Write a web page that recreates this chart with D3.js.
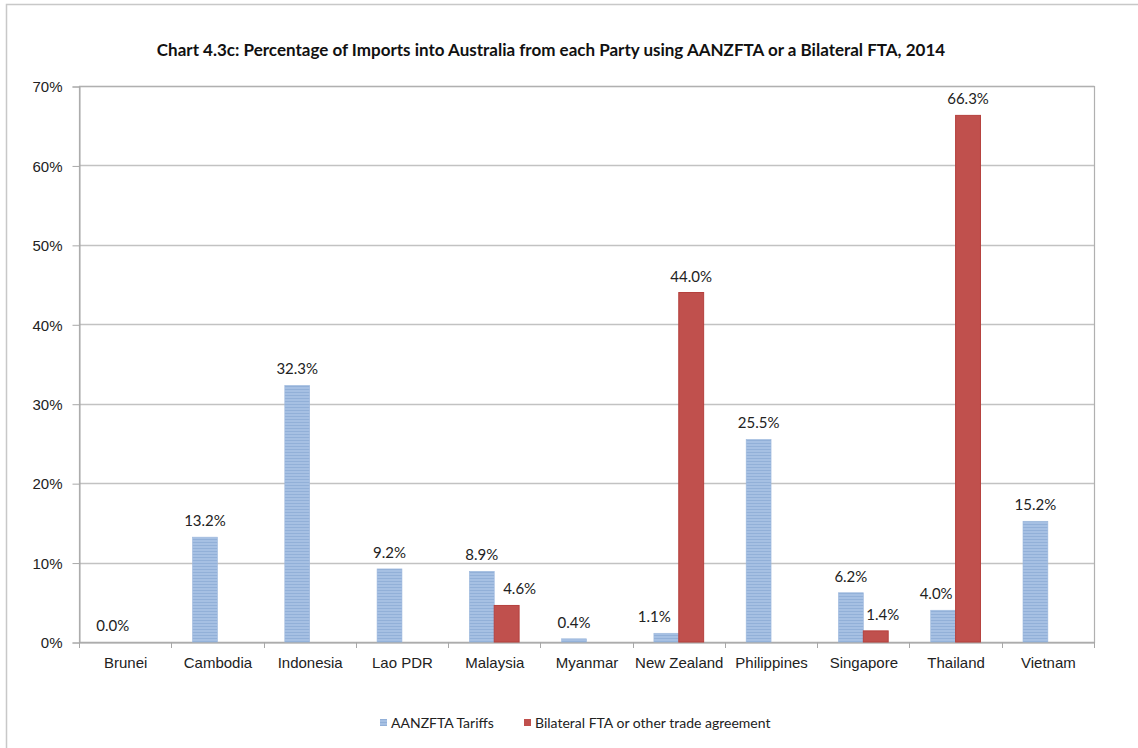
<!DOCTYPE html>
<html>
<head>
<meta charset="utf-8">
<script src="https://cdn.jsdelivr.net/npm/d3@7"></script>
<style>
  html, body { margin: 0; padding: 0; background: #fff; }
  svg { display: block; font-family: Lato, "Open Sans", "Liberation Sans", sans-serif; }
</style>
</head>
<body>
<svg id="chart" width="1138" height="748"></svg>
<script>
// Chart data
const categories = ["Brunei", "Cambodia", "Indonesia", "Lao PDR", "Malaysia", "Myanmar",
  "New Zealand", "Philippines", "Singapore", "Thailand", "Vietnam"];
const seriesNames = ["AANZFTA Tariffs", "Bilateral FTA or other trade agreement"];
const aanzftaValues = [0.0, 13.2, 32.3, 9.2, 8.9, 0.4, 1.1, 25.5, 6.2, 4.0, 15.2];
const bilateralValues = [null, null, null, null, 4.6, null, 44.0, null, 1.4, 66.3, null];
const yTicks = [0, 10, 20, 30, 40, 50, 60, 70];
const titleText = "Chart 4.3c: Percentage of Imports into Australia from each Party using AANZFTA or a Bilateral FTA, 2014";

const svg = d3.select("#chart");
const plot = { left: 79, top: 86, right: 1094, bottom: 642 };

// Hand-placed value labels that sit beside a neighbouring bar (category|series -> dx)
const labelNudge = { "Malaysia|1": 13, "New Zealand|0": -12, "Singapore|1": 7, "Thailand|0": -7 };

// Outer chart frame
svg.append("rect")
  .attr("x", 6.5).attr("y", 4.5)
  .attr("width", 1300).attr("height", 900)
  .attr("fill", "none").attr("stroke", "#c8c8c8").attr("stroke-width", 1.5);

// Striped fill for the AANZFTA bars
const defs = svg.append("defs");
const pat = defs.append("pattern")
  .attr("id", "stripe").attr("patternUnits", "userSpaceOnUse")
  .attr("width", 4).attr("height", 3);
pat.append("rect").attr("width", 4).attr("height", 3).attr("fill", "#a6c0e3");
pat.append("rect").attr("y", 2).attr("width", 4).attr("height", 1).attr("fill", "#92b0d8");

const x0 = d3.scaleBand().domain(categories).range([plot.left, plot.right]).paddingInner(0).paddingOuter(0);
const x1 = d3.scaleBand().domain([0, 1]).range([0, x0.bandwidth()]).paddingInner(0).paddingOuter(0.855);
const y = d3.scaleLinear().domain([0, 70]).range([plot.bottom, plot.top]);

// Gridlines
svg.append("g").selectAll("line").data(yTicks).join("line")
  .attr("x1", plot.left).attr("x2", plot.right)
  .attr("y1", d => Math.round(y(d)) + 0.5).attr("y2", d => Math.round(y(d)) + 0.5)
  .attr("stroke", "#c2c2c2").attr("stroke-width", 1.3);

// Plot area border
svg.append("rect")
  .attr("x", plot.left + 0.5).attr("y", plot.top + 0.5)
  .attr("width", plot.right - plot.left).attr("height", plot.bottom - plot.top)
  .attr("fill", "none").attr("stroke", "#b0b0b0").attr("stroke-width", 1.2);

// Y axis
const yAxis = svg.append("g")
  .attr("transform", `translate(${plot.left + 0.5},0.5)`)
  .call(d3.axisLeft(y).tickValues(yTicks).tickFormat(d => d + "%").tickSize(7).tickPadding(10));
yAxis.select(".domain").attr("stroke", "#a8a8a8");
yAxis.selectAll(".tick line").attr("stroke", "#a8a8a8");
yAxis.selectAll("text").attr("fill", "#222").style("font-size", "15px")
  .attr("dy", "0.35em");

// X axis
const xAxis = svg.append("g")
  .attr("transform", `translate(0.5,${plot.bottom + 0.5})`)
  .call(d3.axisBottom(x0).tickSize(0).tickPadding(15));
xAxis.select(".domain").attr("stroke", "#a8a8a8");
xAxis.selectAll("text").attr("fill", "#222").style("font-size", "15px");
// Category separators below the axis
svg.append("g").selectAll("line")
  .data(categories.map((c, i) => plot.left + i * x0.bandwidth()).concat([plot.right]))
  .join("line")
  .attr("x1", d => Math.round(d) + 0.5).attr("x2", d => Math.round(d) + 0.5)
  .attr("y1", plot.bottom).attr("y2", plot.bottom + 6)
  .attr("stroke", "#a8a8a8");

// Bars
const rows = categories.map((c, i) => ({ c, v: [aanzftaValues[i], bilateralValues[i]] }));
const groups = svg.append("g").selectAll("g").data(rows).join("g")
  .attr("transform", d => `translate(${x0(d.c)},0)`);

groups.selectAll("rect")
  .data(d => d.v.map((v, k) => ({ c: d.c, v, k })).filter(e => e.v !== null))
  .join("rect")
  .attr("x", e => x1(e.k))
  .attr("width", x1.bandwidth())
  .attr("y", e => y(e.v))
  .attr("height", e => y(0) - y(e.v))
  .attr("fill", e => e.k === 0 ? "url(#stripe)" : "#c0504d")
  .attr("stroke", e => e.k === 0 ? "#9cb7dc" : "#b5403d")
  .attr("stroke-width", e => e.k === 0 ? 0.6 : 1);

// Value labels
groups.selectAll("text.val")
  .data(d => d.v.map((v, k) => ({ c: d.c, v, k })).filter(e => e.v !== null))
  .join("text")
  .attr("class", "val")
  .attr("x", e => x1(e.k) + x1.bandwidth() / 2 + (labelNudge[e.c + "|" + e.k] || 0))
  .attr("y", e => y(e.v) - 11)
  .attr("text-anchor", "middle")
  .attr("fill", "#222")
  .style("font-size", "15px")
  .text(e => e.v.toFixed(1) + "%");

// Title
svg.append("text")
  .attr("x", 551).attr("y", 56)
  .attr("text-anchor", "middle")
  .attr("fill", "#111")
  .style("font-size", "17px").style("font-weight", "bold")
  .text(titleText);

// Legend
const legendItems = [
  { name: seriesNames[0], fill: "url(#stripe)", x: 380 },
  { name: seriesNames[1], fill: "#c0504d", x: 524 }
];
const leg = svg.append("g").selectAll("g").data(legendItems).join("g")
  .attr("transform", d => `translate(${d.x},723)`);
leg.append("rect").attr("x", 0).attr("y", -4).attr("width", 7).attr("height", 7)
  .attr("fill", d => d.fill);
leg.append("text").attr("x", 11).attr("y", 0).attr("dy", "0.35em")
  .attr("fill", "#222").style("font-size", "14px")
  .text(d => d.name);
</script>
</body>
</html>
